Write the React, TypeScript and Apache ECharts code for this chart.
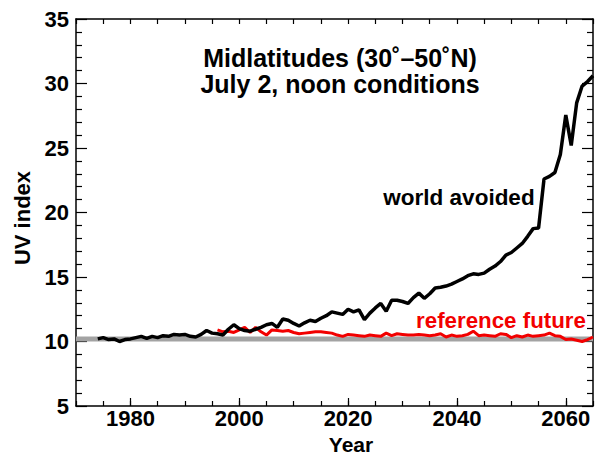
import React, { useEffect, useRef } from "react";
import * as echarts from "echarts";

const blackYears: number[] = [];
for (let y = 1974; y <= 2065; y++) blackYears.push(y);
const worldAvoided = [
  10.2, 10.3, 10.15, 10.2, 10.0, 10.15, 10.2, 10.3, 10.4, 10.25,
  10.4, 10.3, 10.45, 10.4, 10.55, 10.5, 10.55, 10.4, 10.35, 10.55,
  10.85, 10.65, 10.6, 10.5, 10.95, 11.3, 11.0, 10.85, 10.8, 10.95,
  11.1, 11.3, 11.4, 11.1, 11.75, 11.65, 11.4, 11.2, 11.45, 11.65,
  11.55, 11.8, 12.0, 12.3, 12.2, 12.1, 12.5, 12.3, 12.45, 11.7,
  12.2, 12.6, 12.95, 12.35, 13.2, 13.2, 13.1, 12.95, 13.4, 13.75,
  13.35, 13.7, 14.15, 14.2, 14.3, 14.45, 14.65, 14.85, 15.1, 15.25,
  15.2, 15.3, 15.6, 15.85, 16.2, 16.7, 16.9, 17.25, 17.6, 18.15,
  18.75, 18.8, 22.6, 22.8, 23.1, 24.5, 27.55, 25.2, 28.5, 29.8,
  30.15, 30.6,
];

const redYears: number[] = [];
for (let y = 1996; y <= 2065; y++) redYears.push(y);
const referenceFuture = [
  10.9, 10.75, 10.8, 10.7, 10.9, 11.1, 10.7, 11.1, 10.75, 10.5,
  10.9, 10.85, 10.8, 10.85, 10.7, 10.6, 10.65, 10.7, 10.75, 10.75,
  10.7, 10.65, 10.5, 10.4, 10.55, 10.5, 10.45, 10.4, 10.5, 10.45,
  10.4, 10.65, 10.45, 10.6, 10.55, 10.5, 10.5, 10.55, 10.5, 10.45,
  10.5, 10.6, 10.35, 10.5, 10.4, 10.45, 10.55, 10.8, 10.45, 10.5,
  10.45, 10.4, 10.6, 10.55, 10.3, 10.45, 10.35, 10.5, 10.4, 10.45,
  10.5, 10.65, 10.45, 10.4, 10.15, 10.2, 10.1, 10.0, 10.15, 10.35,
];

const baselineYears = [1970, 2065];
const baselineValue = 10.2;
const xLabelYears = [1980, 2000, 2020, 2040, 2060];
const titleLines = ["Midlatitudes (30˚–50˚N)", "July 2, noon conditions"];

const FONT = "'Liberation Sans', Arial, Helvetica, sans-serif";

export default function App() {
  const ref = useRef<HTMLDivElement>(null);
  useEffect(() => {
    if (!ref.current) return;
    const chart = echarts.init(ref.current, undefined, { renderer: "svg" });
    const lineCol = "#000";
    const baseX = {
      type: "value",
      min: 1970,
      max: 2065,
      interval: 5,
      splitLine: { show: false },
      axisLine: { show: true, lineStyle: { color: lineCol, width: 1.5 } },
    };
    const baseY = {
      type: "value",
      min: 5,
      max: 35,
      interval: 5,
      splitLine: { show: false },
      axisLine: { show: true, lineStyle: { color: lineCol, width: 1.5 } },
      axisTick: { show: true, inside: true, length: 11, lineStyle: { color: lineCol, width: 1.2 } },
      minorTick: { show: true, splitNumber: 5, length: 6, lineStyle: { color: lineCol, width: 1.2 } },
    };
    const txt = (text: string, x: number, y: number, size: number, fill = "#000") => ({
      type: "text",
      style: {
        text,
        x,
        y,
        align: "center",
        verticalAlign: "middle",
        fontSize: size,
        fontWeight: "bold",
        fontFamily: FONT,
        fill,
      },
    });
    chart.setOption({
      animation: false,
      backgroundColor: "#fff",
      grid: { left: 76, top: 19, width: 522, height: 387, containLabel: false },
      xAxis: [
        {
          ...baseX,
          position: "bottom",
          axisTick: { show: true, inside: true, length: 5, lineStyle: { color: lineCol, width: 1.2 } },
          axisLabel: {
            show: true,
            margin: 1,
            color: "#000",
            fontSize: 22,
            fontWeight: "bold",
            fontFamily: FONT,
            formatter: (v: number) => (xLabelYears.indexOf(v) >= 0 ? String(v) : ""),
          },
        },
        {
          ...baseX,
          position: "top",
          axisTick: { show: true, inside: true, length: 5, lineStyle: { color: lineCol, width: 1.2 } },
          axisLabel: { show: false },
        },
        {
          ...baseX,
          position: "bottom",
          axisLine: { show: false },
          axisTick: { show: true, inside: true, length: 8, customValues: xLabelYears, lineStyle: { color: lineCol, width: 1.2 } },
          axisLabel: { show: false },
        },
      ],
      yAxis: [
        {
          ...baseY,
          position: "left",
          axisLabel: {
            show: true,
            margin: 7,
            color: "#000",
            fontSize: 22,
            fontWeight: "bold",
            fontFamily: FONT,
          },
        },
        {
          ...baseY,
          position: "right",
          axisLabel: { show: false },
        },
      ],
      series: [
        {
          name: "baseline",
          type: "line",
          data: baselineYears.map((y) => [y, baselineValue]),
          showSymbol: false,
          symbol: "none",
          lineStyle: { color: "#a3a3a3", width: 5 },
          z: 1,
        },
        {
          name: "reference future",
          type: "line",
          data: redYears.map((y, i) => [y, referenceFuture[i]]),
          showSymbol: false,
          symbol: "none",
          lineStyle: { color: "#f20000", width: 3 },
          z: 2,
        },
        {
          name: "world avoided",
          type: "line",
          data: blackYears.map((y, i) => [y, worldAvoided[i]]),
          showSymbol: false,
          symbol: "none",
          lineStyle: { color: "#000", width: 3.5 },
          z: 3,
        },
      ],
      graphic: [
        txt(titleLines[0], 340, 58, 25),
        txt(titleLines[1], 340, 84, 25),
        txt("world avoided", 459, 197, 22.5),
        txt("reference future", 501, 320, 22.3, "#f20000"),
        txt("Year", 351, 444, 21),
        {
          type: "text",
          x: 22,
          y: 218,
          rotation: Math.PI / 2,
          style: {
            text: "UV index",
            x: 0,
            y: 0,
            align: "center",
            verticalAlign: "middle",
            fontSize: 22,
            fontWeight: "bold",
            fontFamily: FONT,
            fill: "#000",
          },
        },
      ],
    });
    return () => chart.dispose();
  }, []);
  return (
    <div
      ref={ref}
      style={{ position: "fixed", left: 0, top: 0, width: 596, height: 455, background: "#fff" }}
    />
  );
}
